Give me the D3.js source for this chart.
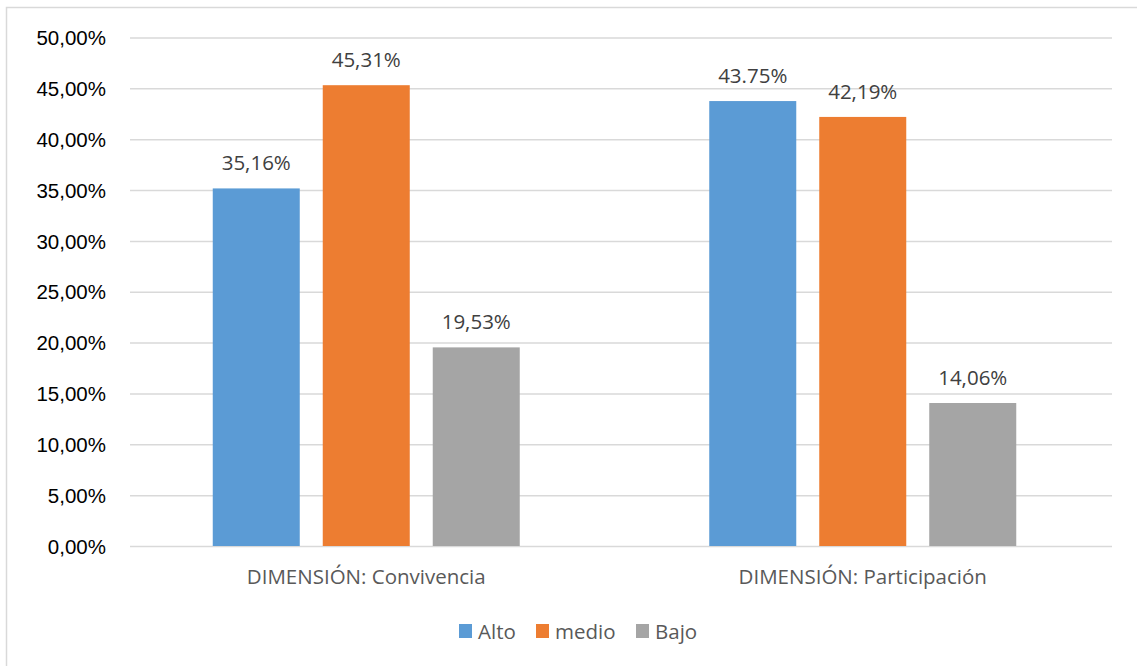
<!DOCTYPE html>
<html>
<head>
<meta charset="utf-8">
<script src="https://cdn.jsdelivr.net/npm/d3@7/dist/d3.min.js"></script>
<style>
  html, body { margin: 0; padding: 0; background: #fff; }
  svg { display: block; }
</style>
</head>
<body>
<svg id="chart" width="1137" height="666"></svg>
<script>
// Chart data
const categories = ["DIMENSIÓN: Convivencia", "DIMENSIÓN: Participación"];
const seriesNames = ["Alto", "medio", "Bajo"];
const seriesColors = ["#5B9BD5", "#ED7D31", "#A5A5A5"];
const valuesConvivencia = [35.16, 45.31, 19.53];
const valuesParticipacion = [43.75, 42.19, 14.06];
const labelsConvivencia = ["35,16%", "45,31%", "19,53%"];
const labelsParticipacion = ["43.75%", "42,19%", "14,06%"];
const yTicks = [0, 5, 10, 15, 20, 25, 30, 35, 40, 45, 50];

const groups = [
  { name: categories[0], values: valuesConvivencia, labels: labelsConvivencia },
  { name: categories[1], values: valuesParticipacion, labels: labelsParticipacion }
];

const svg = d3.select("#chart");
const W = 1137, H = 666;

// outer chart frame
svg.append("rect")
  .attr("x", 6.5).attr("y", 7.5)
  .attr("width", W + 10).attr("height", H + 10)
  .attr("fill", "#fff")
  .attr("stroke", "#D9D9D9")
  .attr("stroke-width", 1.5);

const plot = { left: 130, right: 1112, top: 37.5, bottom: 546 };

const y = d3.scaleLinear().domain([0, 50]).range([plot.bottom, plot.top]);

const x0 = d3.scaleBand()
  .domain(categories)
  .range([118, 1111])
  .paddingInner(0)
  .paddingOuter(0);

const groupWidth = 307;
const x1 = d3.scaleBand()
  .domain(seriesNames)
  .range([0, groupWidth])
  .paddingInner(0.209)
  .paddingOuter(0);

// gridlines
const yAxis = d3.axisLeft(y)
  .tickValues(yTicks)
  .tickSize(-(plot.right - plot.left))
  .tickPadding(24)
  .tickFormat(d => d.toFixed(2).replace(".", ",") + "%");

const yg = svg.append("g")
  .attr("transform", `translate(${plot.left},0)`)
  .call(yAxis);
yg.select(".domain").remove();
yg.selectAll(".tick line")
  .attr("stroke", "#D9D9D9")
  .attr("stroke-width", 1.5);
yg.selectAll(".tick text")
  .attr("fill", "#000")
  .attr("font-family", "'Liberation Sans', Arial, sans-serif")
  .attr("font-size", "20.5px")
  .attr("dy", "0.35em");

// bars
const gGroups = svg.append("g").selectAll("g")
  .data(groups)
  .join("g")
  .attr("transform", d => `translate(${x0(d.name) + (x0.bandwidth() - groupWidth) / 2},0)`);

gGroups.selectAll("rect")
  .data(d => d.values.map((v, i) => ({ key: seriesNames[i], value: v, label: d.labels[i], color: seriesColors[i] })))
  .join("rect")
  .attr("x", d => x1(d.key))
  .attr("width", x1.bandwidth())
  .attr("y", d => y(d.value))
  .attr("height", d => y(0) - y(d.value))
  .attr("fill", d => d.color);

gGroups.selectAll("text.val")
  .data(d => d.values.map((v, i) => ({ key: seriesNames[i], value: v, label: d.labels[i] })))
  .join("text")
  .attr("class", "val")
  .attr("x", d => x1(d.key) + x1.bandwidth() / 2)
  .attr("y", d => y(d.value) - 18)
  .attr("text-anchor", "middle")
  .attr("fill", "#404040")
  .attr("font-family", "'Open Sans', sans-serif")
  .attr("font-size", "20.5px")
  .text(d => d.label);

// category labels
svg.append("g").selectAll("text")
  .data(categories)
  .join("text")
  .attr("x", d => x0(d) + x0.bandwidth() / 2)
  .attr("y", 584)
  .attr("text-anchor", "middle")
  .attr("fill", "#595959")
  .attr("font-family", "'Open Sans', sans-serif")
  .attr("font-size", "20.5px")
  .text(d => d);

// legend
const legendItems = [
  { name: seriesNames[0], color: seriesColors[0], x: 459 },
  { name: seriesNames[1], color: seriesColors[1], x: 536 },
  { name: seriesNames[2], color: seriesColors[2], x: 636 }
];
const lg = svg.append("g").selectAll("g")
  .data(legendItems)
  .join("g")
  .attr("transform", d => `translate(${d.x},0)`);
lg.append("rect")
  .attr("x", 0).attr("y", 624)
  .attr("width", 13).attr("height", 14)
  .attr("fill", d => d.color);
lg.append("text")
  .attr("x", 19).attr("y", 638.5)
  .attr("fill", "#595959")
  .attr("font-family", "'Open Sans', sans-serif")
  .attr("font-size", "20.5px")
  .text(d => d.name);
</script>
</body>
</html>
